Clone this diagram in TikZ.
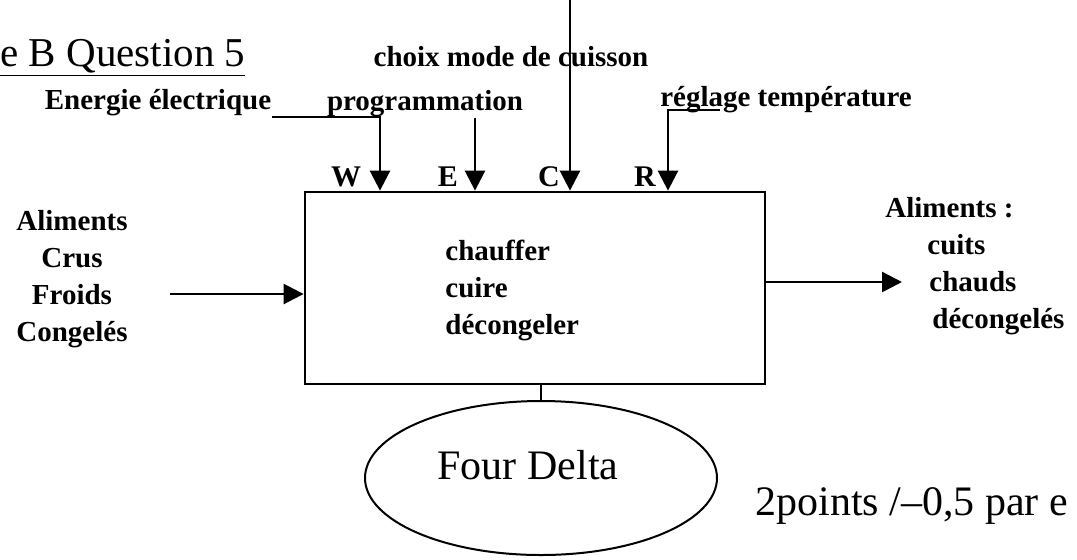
\documentclass[tikz,border=0pt]{standalone}
\usepackage{fontspec}
\setmainfont{Liberation Serif}
\usetikzlibrary{arrows.meta,positioning,shapes.geometric}

\begin{document}
\begin{tikzpicture}[
    x=0.5pt, y=-0.5pt,
    fnbox/.style={
      draw,
      line width=1.4pt,
      minimum width=230pt,
      minimum height=96pt,
      inner sep=0pt
    },
    lbl/.style={font=\fontsize{14.5}{18.5}\selectfont\bfseries, inner sep=0pt},
    port/.style={font=\fontsize{15}{18}\selectfont\bfseries, inner sep=0pt},
    arrow/.style={-{Triangle[length=10pt,width=10pt]}, line width=1.3pt}
  ]
    \useasboundingbox (0,0) rectangle (1077,559);

    \node[font=\fontsize{20.5}{24}\selectfont, anchor=base west, inner sep=0pt]
      (titre) at (0,66) {\underline{e B Question 5}};

    \node[fnbox] (fn-box) at (535,288) {};
    \node[lbl, align=left, anchor=west] (fn-text) at (445,290)
      {chauffer\\cuire\\décongeler};

    \node[lbl] (energie) at (158,103) {Energie électrique};
    \node[lbl] (programmation) at (425,104) {programmation};
    \node[lbl] (choix) at (511,57) {choix mode de cuisson};
    \node[lbl] (reglage) at (786,100) {réglage température};

    \coordinate (port-w) at (380,0 |- fn-box.north);
    \coordinate (port-e) at (475,0 |- fn-box.north);
    \coordinate (port-c) at (570,0 |- fn-box.north);
    \coordinate (port-r) at (668,0 |- fn-box.north);

    \node[port] (tag-w) at (346,177) {W};
    \node[port] (tag-e) at (448,177) {E};
    \node[port] (tag-c) at (549,177) {C};
    \node[port] (tag-r) at (645,177) {R};

    \coordinate (c-top) at (570,0);
    \coordinate (r-start) at (720,110);

    \draw[arrow] (energie.east |- 0,117) -| (port-w);
    \draw[arrow] (programmation.south -| port-e) -- (port-e);
    \draw[arrow] (c-top) -- (port-c);
    \draw[arrow] (r-start) -| (port-r);

    \node[lbl, align=center] (aliments-in) at (72,279)
      {Aliments\\Crus\\Froids\\Congelés};
    \node[lbl, align=left, anchor=north west] (aliments-out) at (885,197)
      {Aliments :\\\hspace*{21pt}cuits\\\hspace*{22pt}chauds\\\hspace*{23.5pt}décongelés};

    \coordinate (in-start) at (170,294);
    \coordinate (out-end) at (902,282);
    \draw[arrow] (in-start) -- (fn-box.west |- in-start);
    \draw[arrow] (fn-box.east |- out-end) -- (out-end);

    \node[draw, ellipse, line width=1pt, minimum width=176pt, minimum height=77pt]
      (four-delta) at (541,478) {};
    \node[font=\fontsize{21}{24}\selectfont, inner sep=0pt] (four-text) at (528,465) {Four Delta};
    \draw[line width=1pt] (four-delta.north |- fn-box.south) -- (four-delta.north);

    \node[font=\fontsize{21}{24}\selectfont, anchor=base west, inner sep=0pt]
      (bareme) at (755,515) {2points /--0,5 par e};
  \end{tikzpicture}
\end{document}
